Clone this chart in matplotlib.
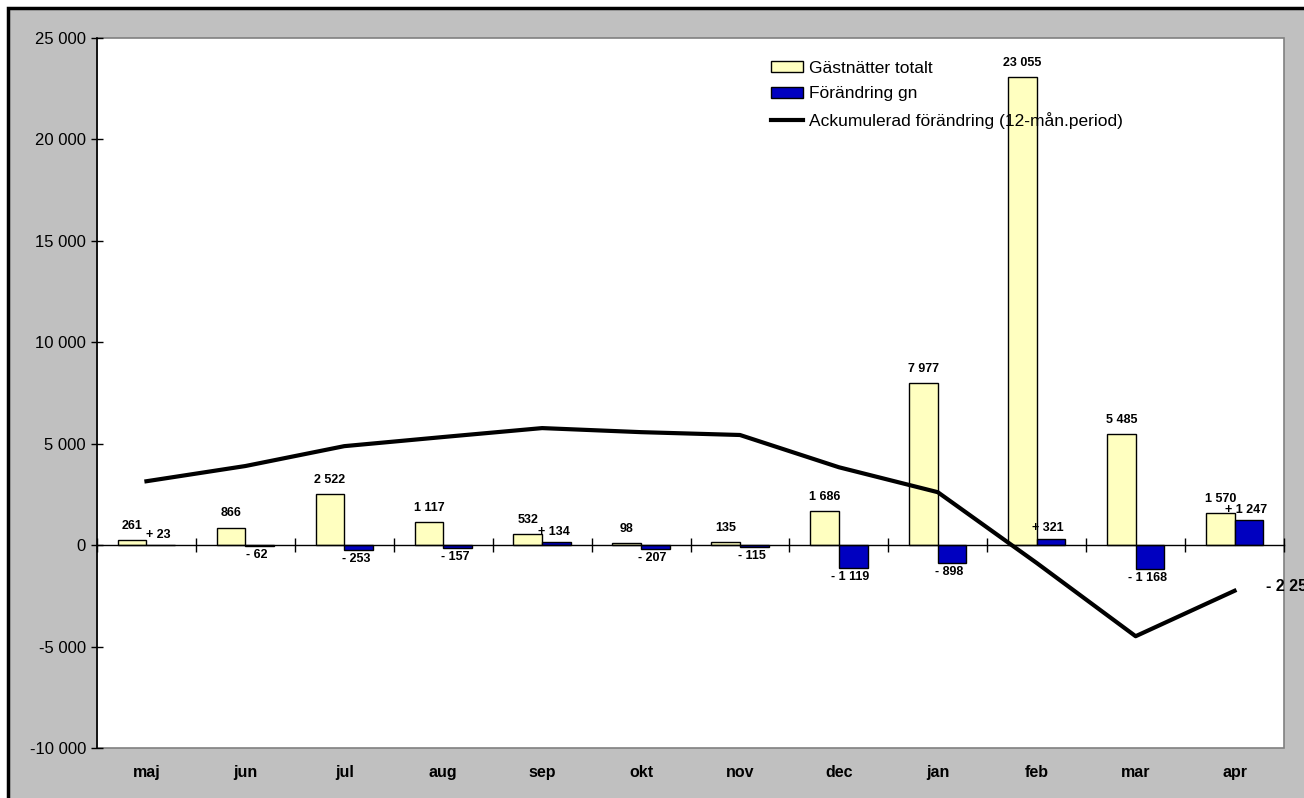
import numpy as np
import matplotlib.pyplot as plt
from matplotlib.patches import Rectangle, Patch
from matplotlib.lines import Line2D
from matplotlib.ticker import FuncFormatter, FixedLocator

plt.rcParams['font.family'] = ['Liberation Sans', 'DejaVu Sans']

# data
months = ['maj', 'jun', 'jul', 'aug', 'sep', 'okt', 'nov', 'dec', 'jan', 'feb', 'mar', 'apr']
gastnatter = [261, 866, 2522, 1117, 532, 98, 135, 1686, 7977, 23055, 5485, 1570]
forandring = [23, -62, -253, -157, 134, -207, -115, -1119, -898, 321, -1168, 1247]
ackumulerad = [3150, 3900, 4880, 5330, 5770, 5570, 5430, 3840, 2610, -880, -4490, -2250]


def fmt_num(v):
    return f"{abs(int(v)):,}".replace(",", " ")


def fmt_signed(v):
    return ("+ " if v >= 0 else "- ") + fmt_num(v)


fig = plt.figure(figsize=(13.04, 7.98), dpi=100)
fig.patch.set_facecolor('white')
# grey chart area with black border (cropped on right/bottom like the original)
fig.patches.append(Rectangle((8 / 1304, -0.1), 1.2, 1.1 - 8 / 798,
                             transform=fig.transFigure, facecolor='#C0C0C0',
                             edgecolor='black', linewidth=2.5, zorder=-10))

ax = fig.add_axes([97 / 1304, 1 - 748 / 798, 1187 / 1304, 710 / 798])
ax.patch.set_facecolor('white')
ax.patch.set_edgecolor('#808080')
ax.patch.set_linewidth(1.2)

x = np.arange(len(months))
w = 0.29
ax.bar(x - w / 2, gastnatter, w, color='#FFFFC0', edgecolor='black', linewidth=1, zorder=2)
ax.bar(x + w / 2, forandring, w, color='#0000C0', edgecolor='black', linewidth=1, zorder=2)
ax.plot(x, ackumulerad, color='black', linewidth=3, zorder=3)

ax.set_xlim(-0.5, len(months) - 0.5)
ax.set_ylim(-10000, 25000)

# spines
for s in ['top', 'right']:
    ax.spines[s].set_visible(False)
ax.spines['bottom'].set_position(('data', 0))
ax.spines['bottom'].set_linewidth(1)
ax.spines['left'].set_linewidth(1.2)

ax.yaxis.set_major_locator(FixedLocator(np.arange(-10000, 25001, 5000)))
ax.yaxis.set_major_formatter(FuncFormatter(lambda v, p: ("-" if v < 0 else "") + fmt_num(v)))
ax.tick_params(axis='y', direction='inout', length=8, width=1, labelsize=12, pad=4)

ax.xaxis.set_major_locator(FixedLocator(np.arange(-0.5, len(months), 1.0)))
ax.set_xticklabels([])
ax.tick_params(axis='x', direction='inout', length=10, width=1)

for i, m in enumerate(months):
    ax.text(i, -0.034, m, transform=ax.get_xaxis_transform(), ha='center', va='center',
            fontsize=11.5, fontweight='bold')

# value labels
for i, v in enumerate(gastnatter):
    ax.annotate(fmt_num(v), (x[i] - w / 2, v), xytext=(0, 6), textcoords='offset points',
                ha='center', va='bottom', fontsize=9, fontweight='bold')
for i, v in enumerate(forandring):
    if v >= 0:
        ax.annotate(fmt_signed(v), (x[i] + w / 2, v), xytext=(-2, 3), textcoords='offset points',
                    ha='center', va='bottom', fontsize=9, fontweight='bold')
    else:
        ax.annotate(fmt_signed(v), (x[i] + w / 2, v), xytext=(-2, -2), textcoords='offset points',
                    ha='center', va='top', fontsize=9, fontweight='bold')

ax.annotate(fmt_signed(ackumulerad[-1]), (x[-1], ackumulerad[-1]), xytext=(23, 3),
            textcoords='offset points', ha='left', va='center', fontsize=11.5,
            fontweight='bold', annotation_clip=False)

handles = [Patch(facecolor='#FFFFC0', edgecolor='black', linewidth=1),
           Patch(facecolor='#0000C0', edgecolor='black', linewidth=1),
           Line2D([], [], color='black', linewidth=3)]
labels = ['Gästnätter totalt', 'Förändring gn', 'Ackumulerad förändring (12-mån.period)']
ax.legend(handles, labels, loc='upper left', bbox_to_anchor=(0.568, 0.968), frameon=False,
          fontsize=12.5, handlelength=1.85, handleheight=0.6, handletextpad=0.35,
          labelspacing=0.6, borderaxespad=0, borderpad=0)

fig.savefig('out.png', dpi=100)
